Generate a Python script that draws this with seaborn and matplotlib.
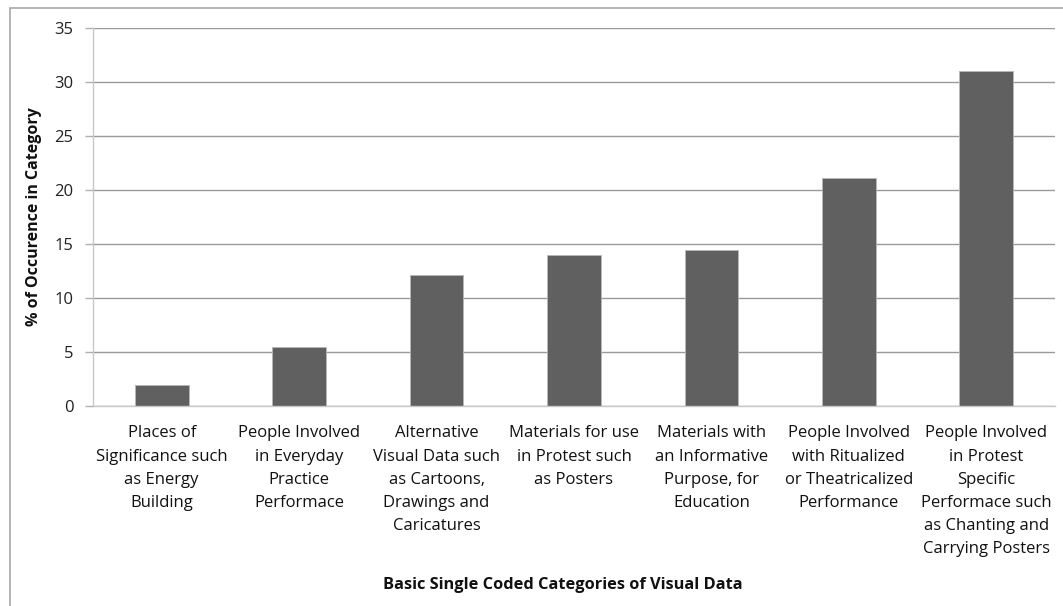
import matplotlib
matplotlib.use("Agg")
import matplotlib.pyplot as plt
import seaborn as sns
import numpy as np
from matplotlib.patches import Rectangle

categories = [
    "Places of\nSignificance such\nas Energy\nBuilding",
    "People Involved\nin Everyday\nPractice\nPerformace",
    "Alternative\nVisual Data such\nas Cartoons,\nDrawings and\nCaricatures",
    "Materials for use\nin Protest such\nas Posters",
    "Materials with\nan Informative\nPurpose, for\nEducation",
    "People Involved\nwith Ritualized\nor Theatricalized\nPerformance",
    "People Involved\nin Protest\nSpecific\nPerformace such\nas Chanting and\nCarrying Posters",
]
percentages = [1.9, 5.5, 12.1, 14.0, 14.4, 21.1, 31.0]
y_ticks = [0, 5, 10, 15, 20, 25, 30, 35]

sns.set_theme(style="white")
plt.rcParams["font.family"] = ["Open Sans", "DejaVu Sans"]

fig = plt.figure(figsize=(10.63, 6.06), dpi=100)
ax = fig.add_axes([93 / 1063, 1 - 406 / 606, (1055 - 93) / 1063, (406 - 28) / 606])

# outer chart frame
fig.patches.append(Rectangle((10 / 1063, -0.05), 1.2, 1 - 8 / 606 + 0.05,
                             transform=fig.transFigure, fill=False,
                             edgecolor="#a8a8a8", linewidth=1.2, zorder=0))

ax.set_ylim(0, 35)
ax.set_yticks(y_ticks)
ax.yaxis.grid(True, color="#9a9a9a", linewidth=1.0)
ax.set_axisbelow(True)

sns.barplot(x=list(range(len(categories))), y=percentages, color="#606060",
            saturation=1, width=0.39, edgecolor="#b8b8b8", linewidth=0.6, ax=ax)

ax.set_xlim(-0.5, len(categories) - 0.5)
ax.set_xticks(range(len(categories)))
ax.set_xticklabels(categories, fontsize=12, color="#111111", linespacing=1.6,
                   va="top")
ax.set_xticks(np.arange(-0.5, len(categories), 1.0), minor=True)
ax.tick_params(axis="x", which="major", length=0, pad=14)
ax.tick_params(axis="x", which="minor", length=6, color="#b0b0b0", width=1)
ax.tick_params(axis="y", length=6, color="#b0b0b0", width=1, pad=8,
               labelsize=12, labelcolor="#222222", left=True)

for side in ["top", "right"]:
    ax.spines[side].set_visible(False)
for side in ["left", "bottom"]:
    ax.spines[side].set_color("#c8c8c8")
    ax.spines[side].set_linewidth(1.0)

ax.set_ylabel("% of Occurence in Category", fontsize=11.5, fontweight="bold",
              color="#111111")
ax.yaxis.set_label_coords((42 - 93) / 962, 0.5)
ax.set_xlabel("Basic Single Coded Categories of Visual Data", fontsize=11.8,
              fontweight="bold", color="#111111")
ax.xaxis.set_label_coords((563 - 93) / 962, (406 - 577) / 378)

fig.savefig("out.png", dpi=100)
